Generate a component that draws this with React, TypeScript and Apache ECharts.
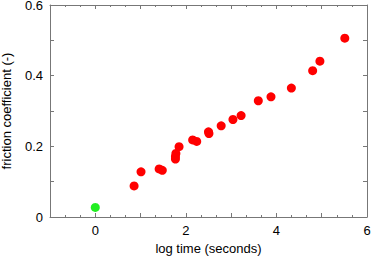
import React, { useEffect, useRef } from "react";
import * as echarts from "echarts";

const redX = [0.857, 1.01, 1.41, 1.48, 1.77, 1.77, 1.78, 1.85, 2.15, 2.24, 2.5, 2.51, 2.78, 3.04, 3.22, 3.6, 3.88, 4.33, 4.8, 4.96, 5.51];
const redY = [0.088, 0.128, 0.136, 0.132, 0.164, 0.171, 0.18, 0.199, 0.218, 0.214, 0.241, 0.236, 0.258, 0.276, 0.287, 0.329, 0.34, 0.365, 0.414, 0.441, 0.506];
const greenX = [0];
const greenY = [0.027];
const xTickLabels = ["0", "2", "4", "6"];
const yTickLabels = ["0", "0.2", "0.4", "0.6"];

export default function App() {
  const ref = useRef<HTMLDivElement>(null);
  useEffect(() => {
    const chart = echarts.init(ref.current!, null, { renderer: "svg" });
    const font = "Liberation Sans, Arial, sans-serif";
    const lineColor = "#777";
    const xFmt = (v: number) => {
      const s = String(Math.round(v));
      return xTickLabels.includes(s) ? s : "";
    };
    const yFmt = (v: number) => {
      const r = Math.round(v * 10) / 10;
      const s = r === 0 ? "0" : String(r);
      return yTickLabels.includes(s) ? s : "";
    };
    const axisCommon = {
      axisLine: { show: true, onZero: false, lineStyle: { color: lineColor, width: 1 } },
      splitLine: { show: false },
      axisTick: { show: true, inside: true, length: 4, lineStyle: { color: lineColor } },
    };
    chart.setOption({
      animation: false,
      grid: { left: 50, top: 5, right: 7, bottom: 39, outerBoundsMode: "none", containLabel: false },
      xAxis: [
        {
          type: "value", min: -1, max: 6, interval: 1,
          ...axisCommon,
          minorTick: { show: true, splitNumber: 3, length: 2, lineStyle: { color: lineColor } },
          axisLabel: { formatter: xFmt, color: "#000", fontSize: 13, fontFamily: font, margin: 7 },
          name: "log time (seconds)", nameLocation: "middle", nameGap: 25,
          nameTextStyle: { color: "#000", fontSize: 13, fontFamily: font },
        },
        {
          type: "value", position: "top", min: -1, max: 6, interval: 1,
          ...axisCommon,
          minorTick: { show: true, splitNumber: 3, length: 2, lineStyle: { color: lineColor } },
          axisLabel: { show: false },
        },
      ],
      yAxis: [
        {
          type: "value", min: 0, max: 0.6, interval: 0.1,
          ...axisCommon,
          axisLabel: { formatter: yFmt, color: "#000", fontSize: 13, fontFamily: font, margin: 7 },
          name: "friction coefficient (-)", nameLocation: "middle", nameGap: 37,
          nameTextStyle: { color: "#000", fontSize: 13, fontFamily: font },
        },
        {
          type: "value", position: "right", min: 0, max: 0.6, interval: 0.1,
          ...axisCommon,
          axisLabel: { show: false },
        },
      ],
      series: [
        {
          type: "scatter", symbolSize: 9, itemStyle: { color: "#ff0000", opacity: 1 },
          data: redX.map((x, i) => [x, redY[i]]),
        },
        {
          type: "scatter", symbolSize: 9, itemStyle: { color: "#22ee22", opacity: 1 },
          data: greenX.map((x, i) => [x, greenY[i]]),
        },
      ],
    });
    return () => chart.dispose();
  }, []);
  return <div ref={ref} style={{ position: "absolute", left: 0, top: 0, width: 374, height: 256 }} />;
}
